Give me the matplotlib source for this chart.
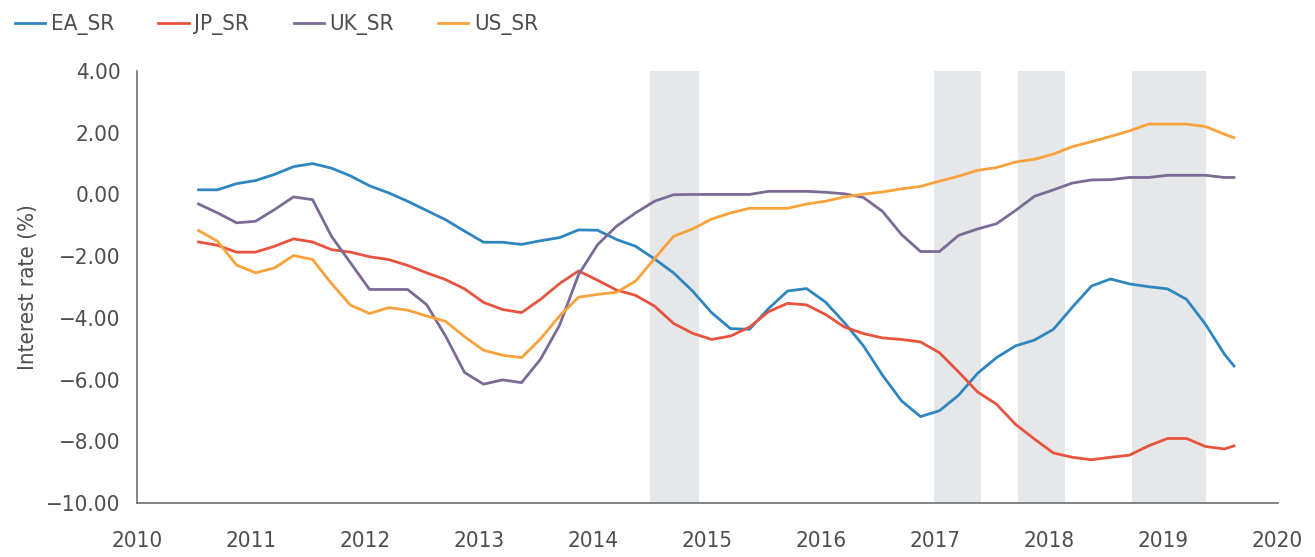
import matplotlib
matplotlib.use("Agg")
import matplotlib.pyplot as plt
from matplotlib.ticker import FixedLocator, FuncFormatter

plt.rcParams['font.family'] = ['DejaVu Sans']
plt.rcParams['font.stretch'] = 'condensed'

# months since Jul 2010, sampled every second month
months = list(range(0, 110, 2)) + [109]

ea_sr = [0.15, 0.15, 0.35, 0.45, 0.65, 0.90, 1.00, 0.85, 0.60, 0.28,
         0.05, -0.22, -0.52, -0.82, -1.19, -1.55, -1.55, -1.62, -1.50, -1.40,
         -1.15, -1.16, -1.46, -1.68, -2.09, -2.54, -3.13, -3.83, -4.35, -4.37,
         -3.70, -3.13, -3.05, -3.49, -4.16, -4.91, -5.86, -6.69, -7.20, -7.01,
         -6.51, -5.80, -5.29, -4.91, -4.72, -4.37, -3.65, -2.97, -2.74, -2.90,
         -2.99, -3.06, -3.40, -4.21, -5.18, -5.56]

jp_sr = [-1.54, -1.65, -1.87, -1.87, -1.68, -1.44, -1.54, -1.79, -1.87, -2.02,
         -2.11, -2.30, -2.54, -2.76, -3.06, -3.50, -3.73, -3.83, -3.40, -2.89,
         -2.48, -2.78, -3.10, -3.27, -3.62, -4.18, -4.50, -4.70, -4.59, -4.30,
         -3.80, -3.53, -3.58, -3.89, -4.30, -4.51, -4.65, -4.70, -4.78, -5.13,
         -5.75, -6.40, -6.80, -7.45, -7.93, -8.38, -8.52, -8.60, -8.52, -8.45,
         -8.15, -7.91, -7.91, -8.17, -8.25, -8.15]

uk_sr = [-0.31, -0.60, -0.92, -0.87, -0.49, -0.08, -0.17, -1.36, -2.22, -3.08,
         -3.08, -3.08, -3.57, -4.59, -5.77, -6.15, -6.01, -6.10, -5.34, -4.24,
         -2.60, -1.63, -1.03, -0.60, -0.22, -0.01, 0.00, 0.00, 0.00, 0.00,
         0.10, 0.10, 0.10, 0.07, 0.02, -0.10, -0.55, -1.30, -1.85, -1.85,
         -1.33, -1.12, -0.95, -0.52, -0.06, 0.15, 0.37, 0.47, 0.48, 0.55,
         0.55, 0.62, 0.62, 0.62, 0.55, 0.55]

us_sr = [-1.17, -1.52, -2.29, -2.54, -2.38, -1.98, -2.11, -2.89, -3.59, -3.86,
         -3.67, -3.75, -3.94, -4.11, -4.61, -5.05, -5.21, -5.29, -4.68, -3.94,
         -3.33, -3.24, -3.17, -2.81, -2.08, -1.36, -1.12, -0.80, -0.60, -0.45,
         -0.45, -0.45, -0.31, -0.22, -0.08, 0.01, 0.08, 0.18, 0.26, 0.43,
         0.59, 0.78, 0.87, 1.05, 1.14, 1.31, 1.55, 1.71, 1.88, 2.06,
         2.28, 2.28, 2.28, 2.20, 1.95, 1.84]

series_names = ["EA_SR", "JP_SR", "UK_SR", "US_SR"]
series_colors = ["#2E86C1", "#E8533F", "#7B6A96", "#F9A23B"]

# shaded periods (fractional years)
band_starts = [2014.50, 2016.99, 2017.73, 2018.73]
band_ends = [2014.93, 2017.40, 2018.14, 2019.38]

years = list(range(2010, 2021))
y_ticks = [4, 2, 0, -2, -4, -6, -8, -10]

text_col = "#4D4D4F"
axis_col = "#6D6E71"

x = [2010.54 + m / 12 for m in months]

fig = plt.figure(figsize=(13.15, 5.57), dpi=100)
ax = fig.add_axes([0.1042, 0.097, 0.8677, 0.7755])

for s, e in zip(band_starts, band_ends):
    ax.axvspan(s, e, color="#E6E7E8", lw=0, zorder=0)

for name, vals, col in zip(series_names, [ea_sr, jp_sr, uk_sr, us_sr], series_colors):
    ax.plot(x, vals, color=col, lw=2.0, label=name, zorder=3)

ax.set_xlim(2010, 2020.01)
ax.set_ylim(-10, 4)
ax.xaxis.set_major_locator(FixedLocator(years))
ax.yaxis.set_major_locator(FixedLocator(y_ticks))
ax.yaxis.set_major_formatter(FuncFormatter(lambda v, p: f"{v:.2f}".replace("-", "\u2212")))
ax.tick_params(axis="both", length=0, labelsize=16, colors=text_col)
ax.tick_params(axis="x", pad=20)
ax.tick_params(axis="y", pad=12)

for side in ["top", "right"]:
    ax.spines[side].set_visible(False)
for side in ["left", "bottom"]:
    ax.spines[side].set_color(axis_col)
    ax.spines[side].set_linewidth(1.2)

ax.set_ylabel("Interest rate (%)", fontsize=16, color=text_col, labelpad=6)

fig.legend(loc="upper left", bbox_to_anchor=(0.0046, 0.99), ncol=4, frameon=False,
           fontsize=16, handlelength=1.36, handletextpad=0.25, columnspacing=2.0,
           borderaxespad=0, labelcolor=text_col)

fig.savefig("out.png", dpi=100)
